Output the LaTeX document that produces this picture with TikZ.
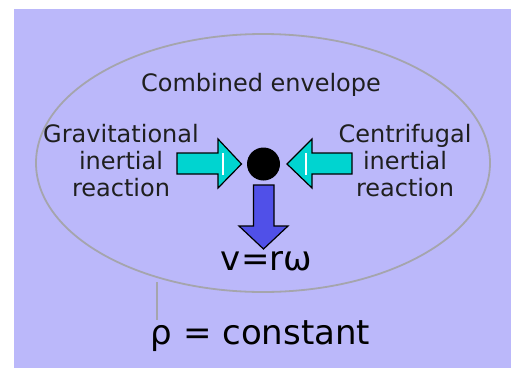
\documentclass[tikz,border=0pt]{standalone}
\usepackage{fontspec}
\setmainfont{DejaVu Sans}
\usepackage{tikz}
\usetikzlibrary{shapes.geometric}
\definecolor{lavender}{RGB}{187,184,250}
\definecolor{aqua}{RGB}{0,212,208}
\definecolor{royal}{RGB}{80,80,232}
\definecolor{envgrey}{RGB}{165,165,172}

\begin{document}
\begin{tikzpicture}[x=1pt, y=-1pt, every node/.style={inner sep=0pt, text=black!88, font=\fontsize{24}{27}\selectfont}]
  \useasboundingbox (0,0) rectangle (511,370);
  % background
  \fill[lavender] (14,9) rectangle (511,368);
  % envelope round the body
  \node (env) [ellipse, draw=envgrey, line width=1.8pt, minimum width=454, minimum height=258] at (263,163) {};
  \node (envlbl) [anchor=base] at (261,91) {Combined envelope};
  % the body
  \node (dot) [circle, fill=black, minimum size=33] at (263.5,164) {};
  % side reactions
  \node (gravlbl) [align=center, anchor=north] at (121,124) {Gravitational\\inertial\\reaction};
  \node (centlbl) [align=center, anchor=north] at (405,124) {Centrifugal\\inertial\\reaction};
  \draw[fill=aqua, line width=1.2pt, line join=miter] (177,153) -- (218,153) -- (218,139) -- (241.5,164) -- (218,188) -- (218,174) -- (177,174) -- cycle;
  \draw[white, line width=1.8pt] (223,153) -- (223,175);
  \draw[fill=aqua, line width=1.2pt, line join=miter] (352,153) -- (312,153) -- (312,139) -- (287,164) -- (312,188) -- (312,174) -- (352,174) -- cycle;
  \draw[white, line width=1.8pt] (306,153) -- (306,175);
  % velocity
  \draw[fill=royal, line width=1.2pt, line join=miter] (253.5,185) -- (274,185) -- (274,226) -- (288,226) -- (263.5,249) -- (239,226) -- (253.5,226) -- cycle;
  \node (vlbl) [anchor=base, font=\fontsize{34}{40}\selectfont, text=black] at (266.5,270) {v=rω};
  % density label
  \node (rho) [anchor=base, font=\fontsize{34}{40}\selectfont, text=black] at (260.5,344) {ρ = constant};
  \coordinate (tick) at (157,282);
  \draw[envgrey, line width=1.2pt] (tick) -- (tick |- rho.north);
\end{tikzpicture}
\end{document}
